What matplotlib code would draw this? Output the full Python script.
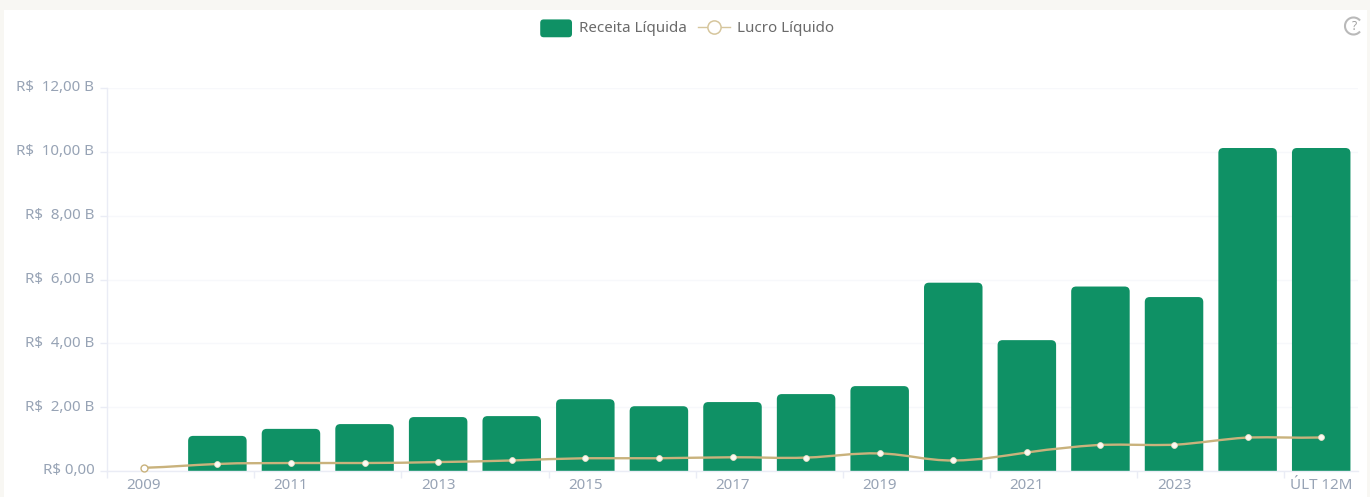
import numpy as np
import matplotlib
matplotlib.use("Agg")
import matplotlib.pyplot as plt
from matplotlib.patches import FancyBboxPatch, Patch, Rectangle, Arc, PathPatch
from matplotlib.path import Path
from matplotlib.lines import Line2D
from matplotlib.legend_handler import HandlerPatch
from matplotlib.transforms import ScaledTranslation

categories = ["2009", "2010", "2011", "2012", "2013", "2014", "2015", "2016", "2017",
              "2018", "2019", "2020", "2021", "2022", "2023", "2024", "ÚLT 12M"]
receita = [0.0, 1.10, 1.32, 1.47, 1.69, 1.72, 2.25, 2.03, 2.16, 2.41, 2.66,
           5.90, 4.10, 5.78, 5.45, 10.12, 10.12]
lucro = [0.10, 0.22, 0.25, 0.25, 0.28, 0.33, 0.40, 0.40, 0.43, 0.42, 0.55,
         0.33, 0.58, 0.82, 0.82, 1.05, 1.05]
yticks = [0, 2, 4, 6, 8, 10, 12]
ylabels = ["R$ 0,00", "R$  2,00 B", "R$  4,00 B", "R$  6,00 B", "R$  8,00 B", "R$  10,00 B", "R$  12,00 B"]

W, H = 1370, 497
GREEN, GOLD = "#0f9165", "#c9b27c"
TICK, AXIS, GRID = "#97a3b5", "#eaecf5", "#f7f8fb"
FONT = ["Noto Sans", "DejaVu Sans"]
plt.rcParams["font.family"] = FONT

fig = plt.figure(figsize=(W / 100, H / 100), dpi=100, facecolor="#f8f7f3")
fig.add_artist(Rectangle((4 / W, 0), (1367 - 4) / W, (H - 10) / H, transform=fig.transFigure,
                         facecolor="white", edgecolor="none", zorder=-5))
ax = fig.add_axes([107 / W, (H - 471) / H, (1358 - 107) / W, (471 - 88) / H])
ax.patch.set_alpha(0)
x = np.arange(len(categories))
ax.set_xlim(-0.5, len(categories) - 0.5)
ax.set_ylim(0, 12)

# Bars with rounded top corners
ux = (1358 - 107) / len(categories)
uy = (471 - 88) / 12
bars = ax.bar(x, receita, width=58.5 / ux, color=GREEN, zorder=2)
r = 5
for b in bars:
    x0, w, h = b.get_x(), b.get_width(), b.get_height()
    if h <= 0:
        continue
    rx, ry = r / ux, r / uy
    verts = [(x0, -1), (x0, h - ry), (x0, h), (x0 + rx, h), (x0 + w - rx, h),
             (x0 + w, h), (x0 + w, h - ry), (x0 + w, -1), (x0, -1)]
    codes = [Path.MOVETO, Path.LINETO, Path.CURVE3, Path.CURVE3, Path.LINETO,
             Path.CURVE3, Path.CURVE3, Path.LINETO, Path.CLOSEPOLY]
    b.set_visible(False)
    ax.add_patch(PathPatch(Path(verts, codes), facecolor=GREEN, edgecolor="none", zorder=2))

# Smooth line: Bezier segments through the values
vals = np.array(lucro)
sm = 0.25
verts = [(x[0], vals[0])]
codes = [Path.MOVETO]
for i in range(len(x) - 1):
    dy0 = (vals[i + 1] - vals[i - 1]) if 0 < i else (vals[i + 1] - vals[i])
    dy1 = (vals[i + 2] - vals[i]) if i + 2 < len(x) else (vals[i + 1] - vals[i])
    if vals[i] == vals[i + 1]:
        dy0 = dy1 = 0 if i in (0,) else dy0 * 0.3
    verts += [(x[i] + 0.38, vals[i] + sm * dy0), (x[i + 1] - 0.38, vals[i + 1] - sm * dy1),
              (x[i + 1], vals[i + 1])]
    codes += [Path.CURVE4] * 3
ax.add_patch(PathPatch(Path(verts, codes), facecolor="none", edgecolor=GOLD, lw=1.7, zorder=3))
# line points
ax.plot(x[:1], lucro[:1], ls="none", marker="o", ms=5.0, mfc="white", mec=GOLD, mew=1.0, zorder=4, clip_on=False)
ax.plot(x[1:], lucro[1:], ls="none", marker="o", ms=4.2, mfc="#fbfaf3", mec="#e9e0c8", mew=0.6, zorder=4, clip_on=False)

# Axes styling
for s in ("top", "right"):
    ax.spines[s].set_visible(False)
for s in ("left", "bottom"):
    ax.spines[s].set_color(AXIS)
    ax.spines[s].set_linewidth(1.0)
ax.set_yticks(yticks, ylabels)
ax.yaxis.grid(True, color=GRID, lw=1.0, zorder=0)
ax.set_axisbelow(True)
ax.tick_params(axis="y", length=5, width=1, color=AXIS, labelcolor=TICK, labelsize=10.9, pad=4)
ax.set_xticks(np.arange(-0.5, len(categories), 2))
ax.set_xticklabels([])
ax.set_xticks(x[::2], [categories[i] for i in x[::2]], minor=True)
ax.tick_params(axis="x", which="major", length=5, width=1, color=AXIS)
ax.tick_params(axis="x", which="minor", length=0, labelcolor=TICK, labelsize=10.9, pad=5.3)
shift = ScaledTranslation(0, 1.5 / 72, fig.dpi_scale_trans)
for t in ax.get_yticklabels():
    t.set_transform(t.get_transform() + shift)


class RoundHandler(HandlerPatch):
    def create_artists(self, legend, orig, xd, yd, width, height, fontsize, trans):
        p = FancyBboxPatch((-xd + 1, -yd - 1.3), width - 2, height + 1.1, boxstyle="round,pad=1,rounding_size=2.5",
                           facecolor=GREEN, edgecolor="none", transform=trans)
        return [p]


handles = [Patch(color=GREEN, label="Receita Líquida"),
           Line2D([], [], color="#d6c69d", lw=1.0, marker="o", ms=9.5, mfc="white", mec="#d6c69d", mew=1.1,
                  label="Lucro Líquido")]
leg = fig.legend(handles=handles, loc="center", bbox_to_anchor=(687 / W, (H - 28.5) / H), ncol=2, frameon=False,
                 fontsize=10.9, labelcolor="#6a6a6a", handlelength=2.1, handleheight=1.0, handletextpad=0.45,
                 columnspacing=0.75, handler_map={Patch: RoundHandler()})

# Help icon (clipped by the panel edge, as in the reference)
fig_ax = fig.add_axes([0, 0, 1, 1], facecolor="none")
fig_ax.set_xlim(0, W)
fig_ax.set_ylim(H, 0)
fig_ax.axis("off")
fig_ax.add_patch(Arc((1353.5, 26), 17, 17, theta1=40, theta2=320, color="#b9b9b9", lw=1.5))
fig_ax.text(1354, 26, "?", color="#a0a0a0", fontsize=8.5, fontweight="bold", ha="center", va="center")

fig.savefig("out.png", dpi=100, facecolor=fig.get_facecolor())
